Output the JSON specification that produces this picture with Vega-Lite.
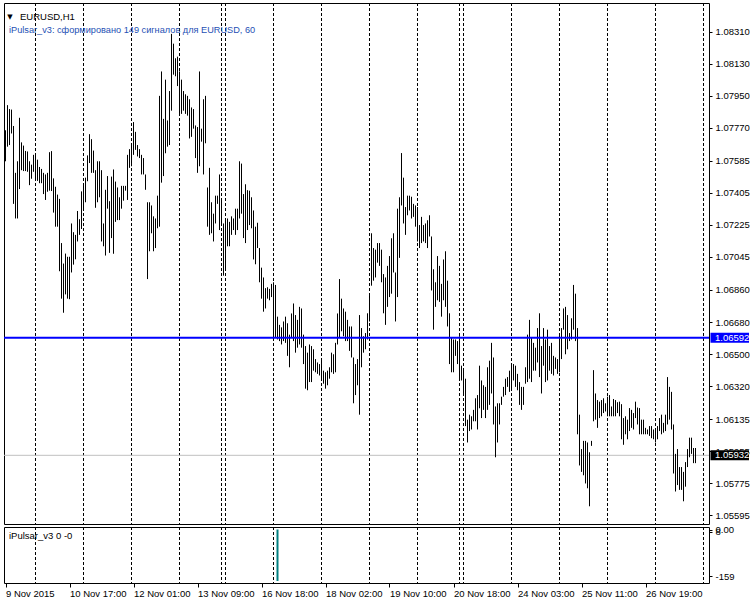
{
"$schema": "https://vega.github.io/schema/vega-lite/v6.json",
"background": "white",
"padding": {"left": 2, "top": 2, "right": 0, "bottom": 0},
"bounds": "flush",
"spacing": 3,
"config": {
  "view": {"stroke": "black", "strokeWidth": 1},
  "font": "Liberation Sans",
  "axis": {"labelFont": "Liberation Sans", "labelFontSize": 9.5, "labelColor": "black", "tickColor": "black", "domain": false, "grid": false, "title": null, "labelOverlap": false, "labelFlush": false}
},
"datasets": {
  "bars": [
{"i":0,"h":1.07756,"l":1.07582},{"i":1,"h":1.07897,"l":1.07664},{"i":2,"h":1.07875,"l":1.07673},{"i":3,"h":1.07872,"l":1.07738},{"i":4,"h":1.07780,"l":1.07343},{"i":5,"h":1.07517,"l":1.07261},{"i":6,"h":1.07582,"l":1.07261},{"i":7,"h":1.07826,"l":1.07426},{"i":8,"h":1.07688,"l":1.07532},{"i":9,"h":1.07670,"l":1.07527},
{"i":10,"h":1.07640,"l":1.07527},{"i":11,"h":1.07637,"l":1.07523},{"i":12,"h":1.07582,"l":1.07448},{"i":13,"h":1.07563,"l":1.07484},{"i":14,"h":1.07618,"l":1.07523},{"i":15,"h":1.07615,"l":1.07477},{"i":16,"h":1.07591,"l":1.07472},{"i":17,"h":1.07550,"l":1.07459},{"i":18,"h":1.07539,"l":1.07459},{"i":19,"h":1.07517,"l":1.07398},
{"i":20,"h":1.07508,"l":1.07365},{"i":21,"h":1.07517,"l":1.07411},{"i":22,"h":1.07633,"l":1.07417},{"i":23,"h":1.07639,"l":1.07415},{"i":24,"h":1.07486,"l":1.07294},{"i":25,"h":1.07439,"l":1.07215},{"i":26,"h":1.07395,"l":1.07215},{"i":27,"h":1.07371,"l":1.06965},{"i":28,"h":1.07123,"l":1.06811},{"i":29,"h":1.07008,"l":1.06732},
{"i":30,"h":1.07064,"l":1.06835},{"i":31,"h":1.07046,"l":1.06811},{"i":32,"h":1.07046,"l":1.06808},{"i":33,"h":1.07233,"l":1.06958},{"i":34,"h":1.07184,"l":1.07002},{"i":35,"h":1.07169,"l":1.07032},{"i":36,"h":1.07303,"l":1.07132},{"i":37,"h":1.07257,"l":1.07169},{"i":38,"h":1.07413,"l":1.07202},{"i":39,"h":1.07450,"l":1.07303},
{"i":40,"h":1.07490,"l":1.07352},{"i":41,"h":1.07615,"l":1.07470},{"i":42,"h":1.07734,"l":1.07572},{"i":43,"h":1.07706,"l":1.07517},{"i":44,"h":1.07642,"l":1.07517},{"i":45,"h":1.07532,"l":1.07321},{"i":46,"h":1.07582,"l":1.07352},{"i":47,"h":1.07582,"l":1.07380},{"i":48,"h":1.07532,"l":1.07132},{"i":49,"h":1.07233,"l":1.07105},
{"i":50,"h":1.07422,"l":1.07053},{"i":51,"h":1.07499,"l":1.07316},{"i":52,"h":1.07358,"l":1.07068},{"i":53,"h":1.07496,"l":1.07151},{"i":54,"h":1.07536,"l":1.07063},{"i":55,"h":1.07468,"l":1.07242},{"i":56,"h":1.07435,"l":1.07252},{"i":57,"h":1.07380,"l":1.07252},{"i":58,"h":1.07444,"l":1.07316},{"i":59,"h":1.07444,"l":1.07361},
{"i":60,"h":1.07444,"l":1.07417},{"i":61,"h":1.07618,"l":1.07365},{"i":62,"h":1.07650,"l":1.07545},{"i":63,"h":1.07677,"l":1.07554},{"i":64,"h":1.07802,"l":1.07618},{"i":65,"h":1.07747,"l":1.07646},{"i":66,"h":1.07673,"l":1.07609},{"i":67,"h":1.07650,"l":1.07600},{"i":68,"h":1.07618,"l":1.07508},{"i":69,"h":1.07600,"l":1.07508},
{"i":70,"h":1.07508,"l":1.07422},{"i":71,"h":1.07352,"l":1.06921},{"i":72,"h":1.07352,"l":1.07077},{"i":73,"h":1.07334,"l":1.07178},{"i":74,"h":1.07273,"l":1.07077},{"i":75,"h":1.07261,"l":1.07095},{"i":76,"h":1.07389,"l":1.07206},{"i":77,"h":1.07949,"l":1.07215},{"i":78,"h":1.08086,"l":1.07462},{"i":79,"h":1.07820,"l":1.07499},
{"i":80,"h":1.08040,"l":1.07627},{"i":81,"h":1.07811,"l":1.07664},{"i":82,"h":1.07976,"l":1.07673},{"i":83,"h":1.08297,"l":1.07866},{"i":84,"h":1.08242,"l":1.08068},{"i":85,"h":1.08160,"l":1.08059},{"i":86,"h":1.08169,"l":1.08004},{"i":87,"h":1.08086,"l":1.07848},{"i":88,"h":1.08040,"l":1.07848},{"i":89,"h":1.07976,"l":1.07866},
{"i":90,"h":1.07958,"l":1.07848},{"i":91,"h":1.07949,"l":1.07838},{"i":92,"h":1.07930,"l":1.07710},{"i":93,"h":1.07884,"l":1.07719},{"i":94,"h":1.07875,"l":1.07765},{"i":95,"h":1.07783,"l":1.07600},{"i":96,"h":1.07774,"l":1.07517},{"i":97,"h":1.08086,"l":1.07554},{"i":98,"h":1.07765,"l":1.07692},{"i":99,"h":1.07930,"l":1.07508},
{"i":100,"h":1.07949,"l":1.07683},{"i":101,"h":1.07435,"l":1.07215},{"i":102,"h":1.07545,"l":1.07169},{"i":103,"h":1.07352,"l":1.07178},{"i":104,"h":1.07288,"l":1.07132},{"i":105,"h":1.07389,"l":1.07233},{"i":106,"h":1.07389,"l":1.07343},{"i":107,"h":1.07508,"l":1.07196},{"i":108,"h":1.07371,"l":1.07233},{"i":109,"h":1.07233,"l":1.06940},
{"i":110,"h":1.07261,"l":1.06976},{"i":111,"h":1.07261,"l":1.07105},{"i":112,"h":1.07242,"l":1.07105},{"i":113,"h":1.07273,"l":1.07169},{"i":114,"h":1.07261,"l":1.07196},{"i":115,"h":1.07316,"l":1.07169},{"i":116,"h":1.07316,"l":1.07196},{"i":117,"h":1.07582,"l":1.07261},{"i":118,"h":1.07569,"l":1.07288},{"i":119,"h":1.07398,"l":1.07151},
{"i":120,"h":1.07453,"l":1.07123},{"i":121,"h":1.07420,"l":1.07196},{"i":122,"h":1.07417,"l":1.07224},{"i":123,"h":1.07380,"l":1.07206},{"i":124,"h":1.07306,"l":1.07031},{"i":125,"h":1.07215,"l":1.07004},{"i":126,"h":1.07237,"l":1.07095},{"i":127,"h":1.07095,"l":1.06903},{"i":128,"h":1.06985,"l":1.06811},{"i":129,"h":1.06930,"l":1.06738},
{"i":130,"h":1.06870,"l":1.06756},{"i":131,"h":1.06875,"l":1.06811},{"i":132,"h":1.06866,"l":1.06802},{"i":133,"h":1.06894,"l":1.06820},{"i":134,"h":1.06903,"l":1.06591},{"i":135,"h":1.06888,"l":1.06591},{"i":136,"h":1.06710,"l":1.06582},{"i":137,"h":1.06664,"l":1.06573},{"i":138,"h":1.06650,"l":1.06554},{"i":139,"h":1.06683,"l":1.06573},
{"i":140,"h":1.06710,"l":1.06563},{"i":141,"h":1.06673,"l":1.06490},{"i":142,"h":1.06609,"l":1.06426},{"i":143,"h":1.06728,"l":1.06591},{"i":144,"h":1.06784,"l":1.06573},{"i":145,"h":1.06719,"l":1.06508},{"i":146,"h":1.06692,"l":1.06536},{"i":147,"h":1.06765,"l":1.06554},{"i":148,"h":1.06756,"l":1.06536},{"i":149,"h":1.06609,"l":1.06444},
{"i":150,"h":1.06545,"l":1.06306},{"i":151,"h":1.06508,"l":1.06297},{"i":152,"h":1.06554,"l":1.06343},{"i":153,"h":1.06545,"l":1.06343},{"i":154,"h":1.06527,"l":1.06407},{"i":155,"h":1.06472,"l":1.06398},{"i":156,"h":1.06453,"l":1.06389},{"i":157,"h":1.06444,"l":1.06380},{"i":158,"h":1.06462,"l":1.06352},{"i":159,"h":1.06407,"l":1.06334},
{"i":160,"h":1.06398,"l":1.06306},{"i":161,"h":1.06407,"l":1.06325},{"i":162,"h":1.06426,"l":1.06362},{"i":163,"h":1.06508,"l":1.06398},{"i":164,"h":1.06499,"l":1.06389},{"i":165,"h":1.06563,"l":1.06398},{"i":166,"h":1.06728,"l":1.06554},{"i":167,"h":1.06921,"l":1.06591},{"i":168,"h":1.06811,"l":1.06628},{"i":169,"h":1.06756,"l":1.06600},
{"i":170,"h":1.06738,"l":1.06573},{"i":171,"h":1.06692,"l":1.06573},{"i":172,"h":1.06655,"l":1.06518},{"i":173,"h":1.06655,"l":1.06481},{"i":174,"h":1.06481,"l":1.06224},{"i":175,"h":1.06444,"l":1.06270},{"i":176,"h":1.06472,"l":1.06325},{"i":177,"h":1.06719,"l":1.06160},{"i":178,"h":1.06646,"l":1.06426},{"i":179,"h":1.06600,"l":1.06508},
{"i":180,"h":1.06618,"l":1.06527},{"i":181,"h":1.06729,"l":1.06582},{"i":182,"h":1.06839,"l":1.06683},{"i":183,"h":1.07178,"l":1.06884},{"i":184,"h":1.07095,"l":1.06912},{"i":185,"h":1.07086,"l":1.06930},{"i":186,"h":1.07123,"l":1.07013},{"i":187,"h":1.07123,"l":1.06995},{"i":188,"h":1.07086,"l":1.06903},{"i":189,"h":1.06949,"l":1.06729},
{"i":190,"h":1.06930,"l":1.06664},{"i":191,"h":1.06995,"l":1.06765},{"i":192,"h":1.07050,"l":1.06820},{"i":193,"h":1.07150,"l":1.06839},{"i":194,"h":1.07178,"l":1.06958},{"i":195,"h":1.06958,"l":1.06683},{"i":196,"h":1.07316,"l":1.06820},{"i":197,"h":1.07380,"l":1.07040},{"i":198,"h":1.07628,"l":1.07334},{"i":199,"h":1.07490,"l":1.07233},
{"i":200,"h":1.07325,"l":1.07169},{"i":201,"h":1.07389,"l":1.07279},{"i":202,"h":1.07389,"l":1.07306},{"i":203,"h":1.07383,"l":1.07261},{"i":204,"h":1.07343,"l":1.07270},{"i":205,"h":1.07334,"l":1.07215},{"i":206,"h":1.07325,"l":1.07132},{"i":207,"h":1.07224,"l":1.07095},{"i":208,"h":1.07270,"l":1.07123},{"i":209,"h":1.07224,"l":1.07132},
{"i":210,"h":1.07233,"l":1.07123},{"i":211,"h":1.07251,"l":1.07095},{"i":212,"h":1.07279,"l":1.07160},{"i":213,"h":1.07160,"l":1.06857},{"i":214,"h":1.06976,"l":1.06637},{"i":215,"h":1.06903,"l":1.06765},{"i":216,"h":1.07050,"l":1.06802},{"i":217,"h":1.06995,"l":1.06793},{"i":218,"h":1.06894,"l":1.06710},{"i":219,"h":1.07031,"l":1.06802},
{"i":220,"h":1.07077,"l":1.06765},{"i":221,"h":1.06912,"l":1.06655},{"i":222,"h":1.06729,"l":1.06444},{"i":223,"h":1.06591,"l":1.06398},{"i":224,"h":1.06582,"l":1.06398},{"i":225,"h":1.06582,"l":1.06490},{"i":226,"h":1.06573,"l":1.06444},{"i":227,"h":1.06600,"l":1.06352},{"i":228,"h":1.06435,"l":1.06352},{"i":229,"h":1.06417,"l":1.06279},
{"i":230,"h":1.06362,"l":1.06096},{"i":231,"h":1.06132,"l":1.06004},{"i":232,"h":1.06160,"l":1.06068},{"i":233,"h":1.06151,"l":1.06077},{"i":234,"h":1.06187,"l":1.06123},{"i":235,"h":1.06252,"l":1.06123},{"i":236,"h":1.06270,"l":1.06077},{"i":237,"h":1.06435,"l":1.06196},{"i":238,"h":1.06352,"l":1.06141},{"i":239,"h":1.06325,"l":1.06187},
{"i":240,"h":1.06316,"l":1.06141},{"i":241,"h":1.06426,"l":1.06187},{"i":242,"h":1.06463,"l":1.06215},{"i":243,"h":1.06563,"l":1.06279},{"i":244,"h":1.06481,"l":1.06105},{"i":245,"h":1.06206,"l":1.05921},{"i":246,"h":1.06224,"l":1.06004},{"i":247,"h":1.06224,"l":1.06105},{"i":248,"h":1.06261,"l":1.06215},{"i":249,"h":1.06316,"l":1.06261},
{"i":250,"h":1.06362,"l":1.06270},{"i":251,"h":1.06371,"l":1.06316},{"i":252,"h":1.06407,"l":1.06288},{"i":253,"h":1.06444,"l":1.06307},{"i":254,"h":1.06444,"l":1.06352},{"i":255,"h":1.06435,"l":1.06316},{"i":256,"h":1.06389,"l":1.06297},{"i":257,"h":1.06343,"l":1.06215},{"i":258,"h":1.06316,"l":1.06187},{"i":259,"h":1.06316,"l":1.06215},
{"i":260,"h":1.06426,"l":1.06334},{"i":261,"h":1.06609,"l":1.06343},{"i":262,"h":1.06692,"l":1.06362},{"i":263,"h":1.06591,"l":1.06343},{"i":264,"h":1.06563,"l":1.06407},{"i":265,"h":1.06536,"l":1.06407},{"i":266,"h":1.06646,"l":1.06453},{"i":267,"h":1.06729,"l":1.06371},{"i":268,"h":1.06545,"l":1.06279},{"i":269,"h":1.06646,"l":1.06435},
{"i":270,"h":1.06582,"l":1.06343},{"i":271,"h":1.06637,"l":1.06352},{"i":272,"h":1.06545,"l":1.06407},{"i":273,"h":1.06563,"l":1.06389},{"i":274,"h":1.06490,"l":1.06380},{"i":275,"h":1.06481,"l":1.06417},{"i":276,"h":1.06472,"l":1.06389},{"i":277,"h":1.06618,"l":1.06398},{"i":278,"h":1.06646,"l":1.06472},{"i":279,"h":1.06756,"l":1.06637},
{"i":280,"h":1.06765,"l":1.06499},{"i":281,"h":1.06719,"l":1.06527},{"i":282,"h":1.06618,"l":1.06573},{"i":283,"h":1.06701,"l":1.06582},{"i":284,"h":1.06888,"l":1.06637},{"i":285,"h":1.06839,"l":1.06573},{"i":286,"h":1.06646,"l":1.06050},{"i":287,"h":1.06160,"l":1.05875},{"i":288,"h":1.05967,"l":1.05839},{"i":289,"h":1.06013,"l":1.05820},
{"i":290,"h":1.06013,"l":1.05774},{"i":291,"h":1.06004,"l":1.05747},{"i":292,"h":1.05949,"l":1.05646},{"i":293,"h":1.06013,"l":1.05985},{"i":294,"h":1.06410,"l":1.06123},{"i":295,"h":1.06279,"l":1.06132},{"i":296,"h":1.06242,"l":1.06086},{"i":297,"h":1.06233,"l":1.06141},{"i":298,"h":1.06242,"l":1.06151},{"i":299,"h":1.06252,"l":1.06169},
{"i":300,"h":1.06224,"l":1.06178},{"i":301,"h":1.06261,"l":1.06151},{"i":302,"h":1.06270,"l":1.06151},{"i":303,"h":1.06206,"l":1.06151},{"i":304,"h":1.06248,"l":1.06151},{"i":305,"h":1.06242,"l":1.06151},{"i":306,"h":1.06230,"l":1.06169},{"i":307,"h":1.06233,"l":1.06151},{"i":308,"h":1.06219,"l":1.06022},{"i":309,"h":1.06141,"l":1.05991},
{"i":310,"h":1.06151,"l":1.06050},{"i":311,"h":1.06132,"l":1.06022},{"i":312,"h":1.06197,"l":1.06068},{"i":313,"h":1.06187,"l":1.06086},{"i":314,"h":1.06169,"l":1.06077},{"i":315,"h":1.06233,"l":1.06141},{"i":316,"h":1.06200,"l":1.06105},{"i":317,"h":1.06197,"l":1.06050},{"i":318,"h":1.06132,"l":1.06050},{"i":319,"h":1.06132,"l":1.06050},
{"i":320,"h":1.06086,"l":1.06050},{"i":321,"h":1.06077,"l":1.06050},{"i":322,"h":1.06096,"l":1.06041},{"i":323,"h":1.06096,"l":1.06028},{"i":324,"h":1.06077,"l":1.06022},{"i":325,"h":1.06077,"l":1.06004},{"i":326,"h":1.06096,"l":1.06022},{"i":327,"h":1.06141,"l":1.06068},{"i":328,"h":1.06160,"l":1.06050},{"i":329,"h":1.06114,"l":1.06059},
{"i":330,"h":1.06160,"l":1.06068},{"i":331,"h":1.06371,"l":1.06105},{"i":332,"h":1.06316,"l":1.06132},{"i":333,"h":1.06288,"l":1.06077},{"i":334,"h":1.06105,"l":1.05830},{"i":335,"h":1.05940,"l":1.05729},{"i":336,"h":1.05967,"l":1.05765},{"i":337,"h":1.05866,"l":1.05738},{"i":338,"h":1.05866,"l":1.05738},{"i":339,"h":1.05839,"l":1.05674},
{"i":340,"h":1.05894,"l":1.05756},{"i":341,"h":1.05967,"l":1.05866},{"i":342,"h":1.06031,"l":1.05921},{"i":343,"h":1.06031,"l":1.05940},{"i":344,"h":1.05973,"l":1.05888},{"i":345,"h":1.05973,"l":1.05888}
  ],
  "seps": [{"i":15},{"i":39},{"i":63},{"i":87},{"i":108},{"i":110},{"i":134},{"i":158},{"i":182},{"i":206},{"i":227},{"i":229},{"i":253},{"i":277},{"i":301},{"i":325},{"i":349}],
  "levels": [{"price":1.06592,"label":"1.06592","kind":"line"},{"price":1.05932,"label":"1.05932","kind":"bid"}],
  "pulse": [{"i":136,"v":-174}],
  "texts": [{"t":"EURUSD,H1","kind":"sym"},{"t":"iPulsar_v3: сформировано 149 сигналов для EURUSD, 60","kind":"info"}]
},
"vconcat": [
  {
    "width": 705,
    "height": 521,
    "layer": [
      {
        "data": {"name": "seps"},
        "mark": {"type": "rule", "color": "black", "strokeWidth": 1, "strokeDash": [3, 2]},
        "encoding": {
          "x": {"field": "i", "type": "quantitative", "scale": {"domain": [-0.75, 351.75], "nice": false, "zero": false}, "axis": null}
        }
      },
      {
        "data": {"name": "levels"},
        "transform": [{"filter": "datum.kind == 'bid'"}],
        "mark": {"type": "rule", "color": "#c0c0c0", "strokeWidth": 1},
        "encoding": {
          "y": {"field": "price", "type": "quantitative", "axis": {"orient": "right", "values": [1.05595, 1.05775, 1.05955, 1.06135, 1.0632, 1.065, 1.0668, 1.0686, 1.07045, 1.07225, 1.07405, 1.07585, 1.0777, 1.0795, 1.0813, 1.0831], "format": ".5f", "tickSize": 3, "labelPadding": 3, "labelOverlap": false, "labelFontSize": 9.5}}
        }
      },
      {
        "data": {"name": "bars"},
        "mark": {"type": "rule", "color": "black", "strokeWidth": 1},
        "encoding": {
          "x": {"field": "i", "type": "quantitative", "scale": {"domain": [-0.75, 351.75], "nice": false, "zero": false}, "axis": null},
          "y": {"field": "l", "type": "quantitative", "scale": {"domain": [1.055746, 1.084421], "nice": false, "zero": false},
                "axis": {"orient": "right", "values": [1.05595, 1.05775, 1.05955, 1.06135, 1.0632, 1.065, 1.0668, 1.0686, 1.07045, 1.07225, 1.07405, 1.07585, 1.0777, 1.0795, 1.0813, 1.0831], "format": ".5f", "tickSize": 3, "labelPadding": 3, "labelOverlap": false, "labelFontSize": 9.5}},
          "y2": {"field": "h"}
        }
      },
      {
        "data": {"name": "levels"},
        "transform": [{"filter": "datum.kind == 'line'"}],
        "mark": {"type": "rule", "color": "#0000ff", "strokeWidth": 2},
        "encoding": {
          "y": {"field": "price", "type": "quantitative", "axis": {"orient": "right", "values": [1.05595, 1.05775, 1.05955, 1.06135, 1.0632, 1.065, 1.0668, 1.0686, 1.07045, 1.07225, 1.07405, 1.07585, 1.0777, 1.0795, 1.0813, 1.0831], "format": ".5f", "tickSize": 3, "labelPadding": 3, "labelOverlap": false, "labelFontSize": 9.5}}
        }
      },
      {
        "data": {"name": "levels"},
        "mark": {"type": "bar", "orient": "horizontal", "height": 10, "clip": false},
        "encoding": {
          "x": {"datum": 352.5, "type": "quantitative", "axis": null},
          "x2": {"datum": 371.75},
          "y": {"field": "price", "type": "quantitative", "axis": {"orient": "right", "values": [1.05595, 1.05775, 1.05955, 1.06135, 1.0632, 1.065, 1.0668, 1.0686, 1.07045, 1.07225, 1.07405, 1.07585, 1.0777, 1.0795, 1.0813, 1.0831], "format": ".5f", "tickSize": 3, "labelPadding": 3, "labelOverlap": false, "labelFontSize": 9.5}},
          "color": {"field": "kind", "type": "nominal", "scale": {"domain": ["line", "bid"], "range": ["#0000ff", "#000000"]}, "legend": null}
        }
      },
      {
        "data": {"name": "levels"},
        "mark": {"type": "text", "align": "left", "baseline": "middle", "color": "white", "fontSize": 9.5, "font": "Liberation Sans"},
        "encoding": {
          "x": {"datum": 354.75, "type": "quantitative", "axis": null},
          "y": {"field": "price", "type": "quantitative", "axis": {"orient": "right", "values": [1.05595, 1.05775, 1.05955, 1.06135, 1.0632, 1.065, 1.0668, 1.0686, 1.07045, 1.07225, 1.07405, 1.07585, 1.0777, 1.0795, 1.0813, 1.0831], "format": ".5f", "tickSize": 3, "labelPadding": 3, "labelOverlap": false, "labelFontSize": 9.5}},
          "text": {"field": "label"}
        }
      },
      {
        "data": {"name": "texts"},
        "transform": [{"filter": "datum.kind == 'sym'"}],
        "mark": {"type": "text", "align": "left", "baseline": "middle", "color": "black", "fontSize": 7, "font": "DejaVu Sans"},
        "encoding": {
          "x": {"datum": 0.9, "type": "quantitative", "axis": null},
          "y": {"datum": 1.08392, "type": "quantitative", "axis": {"orient": "right", "values": [1.05595, 1.05775, 1.05955, 1.06135, 1.0632, 1.065, 1.0668, 1.0686, 1.07045, 1.07225, 1.07405, 1.07585, 1.0777, 1.0795, 1.0813, 1.0831], "format": ".5f", "tickSize": 3, "labelPadding": 3, "labelOverlap": false, "labelFontSize": 9.5}},
          "text": {"value": "▼"}
        }
      },
      {
        "data": {"name": "texts"},
        "transform": [{"filter": "datum.kind == 'sym'"}],
        "mark": {"type": "text", "align": "left", "baseline": "middle", "color": "black", "fontSize": 9.5, "font": "Liberation Sans"},
        "encoding": {
          "x": {"datum": 7.25, "type": "quantitative", "axis": null},
          "y": {"datum": 1.0839, "type": "quantitative", "axis": {"orient": "right", "values": [1.05595, 1.05775, 1.05955, 1.06135, 1.0632, 1.065, 1.0668, 1.0686, 1.07045, 1.07225, 1.07405, 1.07585, 1.0777, 1.0795, 1.0813, 1.0831], "format": ".5f", "tickSize": 3, "labelPadding": 3, "labelOverlap": false, "labelFontSize": 9.5}},
          "text": {"field": "t"}
        }
      },
      {
        "data": {"name": "texts"},
        "transform": [{"filter": "datum.kind == 'info'"}],
        "mark": {"type": "text", "align": "left", "baseline": "middle", "color": "#1e4fb4", "fontSize": 9.2, "font": "Liberation Sans"},
        "encoding": {
          "x": {"datum": 1.75, "type": "quantitative", "axis": null},
          "y": {"datum": 1.08318, "type": "quantitative", "axis": {"orient": "right", "values": [1.05595, 1.05775, 1.05955, 1.06135, 1.0632, 1.065, 1.0668, 1.0686, 1.07045, 1.07225, 1.07405, 1.07585, 1.0777, 1.0795, 1.0813, 1.0831], "format": ".5f", "tickSize": 3, "labelPadding": 3, "labelOverlap": false, "labelFontSize": 9.5}},
          "text": {"field": "t"}
        }
      }
    ]
  },
  {
    "width": 705,
    "height": 56,
    "layer": [
      {
        "data": {"name": "seps"},
        "mark": {"type": "rule", "color": "black", "strokeWidth": 1, "strokeDash": [3, 2]},
        "encoding": {
          "x": {"field": "i", "type": "quantitative", "scale": {"domain": [-0.75, 351.75], "nice": false, "zero": false},
                "axis": {"orient": "bottom", "values": [0, 32, 64, 96, 128, 160, 192, 224, 256, 288, 320],
                         "labelExpr": "['9 Nov 2015','10 Nov 17:00','12 Nov 01:00','13 Nov 09:00','16 Nov 18:00','18 Nov 02:00','19 Nov 10:00','20 Nov 18:00','24 Nov 03:00','25 Nov 11:00','26 Nov 19:00'][round(datum.value/32)]",
                         "labelAlign": "left", "labelDx": 1, "tickSize": 4, "labelPadding": 1, "labelOverlap": false, "labelFontSize": 9.5}}
        }
      },
      {
        "data": {"name": "pulse"},
        "mark": {"type": "rule", "color": "#008080", "strokeWidth": 2},
        "encoding": {
          "x": {"field": "i", "type": "quantitative"},
          "y": {"field": "v", "type": "quantitative", "scale": {"domain": [-181, 8.5], "nice": false, "zero": false},
                "axis": {"orient": "right", "values": [0, -8, -159], "labelExpr": "datum.value == 0 ? '0.00' : datum.value == -159 ? '-159' : '8'", "tickSize": 3, "labelPadding": 3, "labelOverlap": false, "labelFontSize": 9.5}},
          "y2": {"datum": 0}
        }
      },
      {
        "data": {"values": [{"t": "iPulsar_v3 0 -0"}]},
        "mark": {"type": "text", "align": "left", "baseline": "middle", "color": "black", "fontSize": 9.5, "font": "Liberation Sans"},
        "encoding": {
          "x": {"datum": 1.75, "type": "quantitative"},
          "y": {"datum": -22, "type": "quantitative", "axis": {"orient": "right", "values": [0, -8, -159], "labelExpr": "datum.value == 0 ? '0.00' : datum.value == -159 ? '-159' : '8'", "tickSize": 3, "labelPadding": 3, "labelOverlap": false, "labelFontSize": 9.5}},
          "text": {"field": "t"}
        }
      }
    ]
  }
]
}
